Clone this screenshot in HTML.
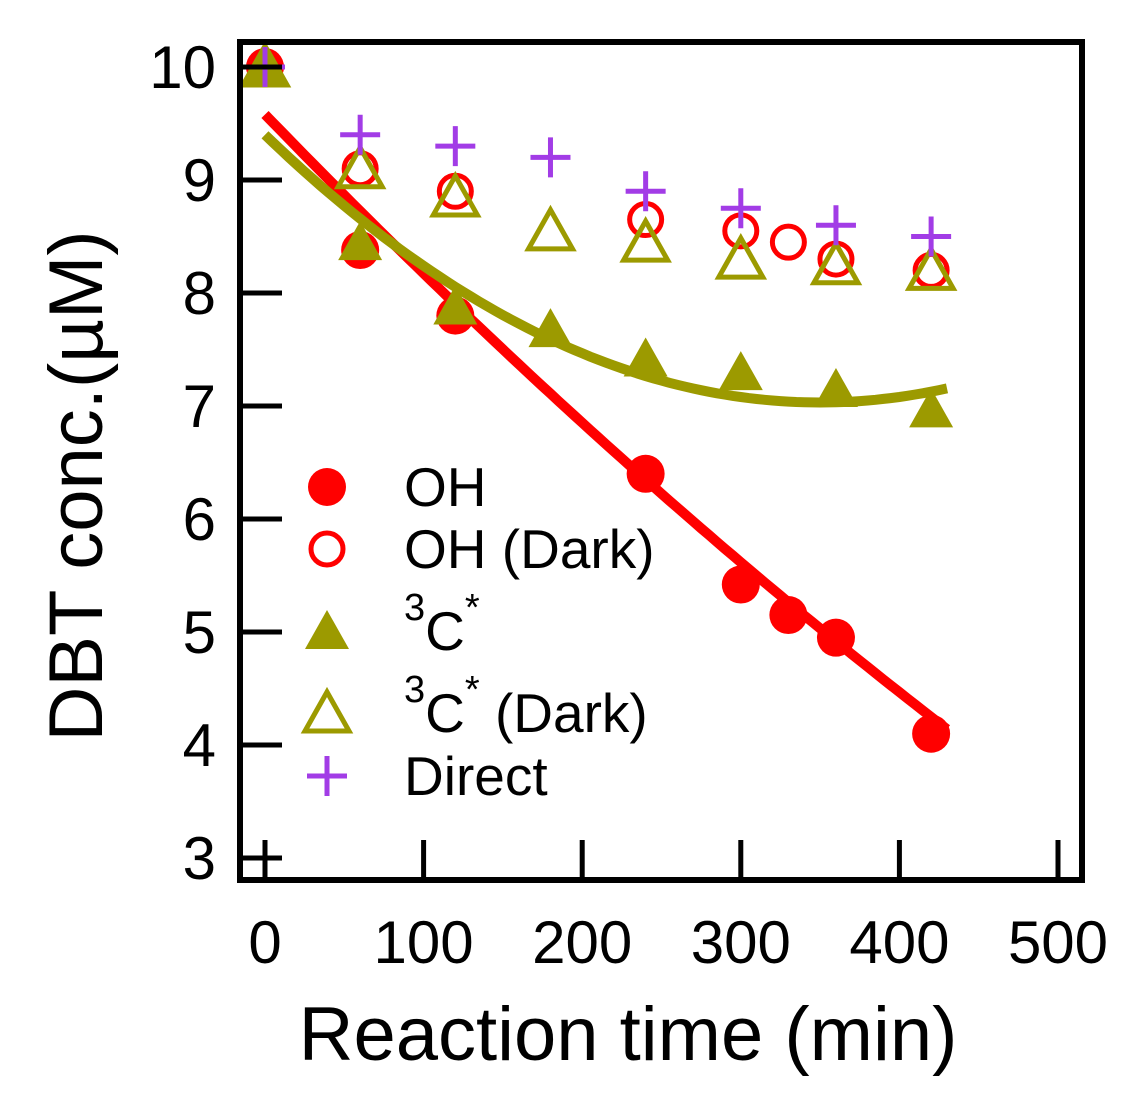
<!DOCTYPE html>
<html><head><meta charset="utf-8"><style>
html,body{margin:0;padding:0;background:#fff;}
svg text{font-family:"Liberation Sans",Arial,sans-serif;}
</style></head><body>
<svg id="chart" width="1145" height="1102" viewBox="0 0 1145 1102" xmlns="http://www.w3.org/2000/svg">
<g id="fits"></g><g id="marks"></g><g id="axes"></g><g id="legend"></g>
</svg>
<script>
const ohTimes = [0,60,120,240,300,330,360,420];
const ohVals = [10,8.38,7.8,6.4,5.42,5.15,4.95,4.1];
const ohDarkTimes = [0,60,120,240,300,330,360,420];
const ohDarkVals = [10,9.1,8.9,8.65,8.55,8.45,8.3,8.2];
const c3Times = [0,60,120,180,240,300,360,420];
const c3Vals = [10,8.45,7.88,7.68,7.42,7.3,7.15,6.97];
const c3DarkTimes = [0,60,120,180,240,300,360,420];
const c3DarkVals = [10,9.1,8.85,8.55,8.45,8.3,8.25,8.2];
const directTimes = [0,60,120,180,240,300,360,420];
const directVals = [10,9.4,9.3,9.2,8.9,8.75,8.6,8.5];
const ohFitCoef = [9.58,-0.0145,0.0000043];
const c3FitCoef = [9.40,-0.01354,0.00001935];
const xTicks = [0,100,200,300,400,500];
const yTicks = [3,4,5,6,7,8,9,10];

const NS="http://www.w3.org/2000/svg";
const X0=240,X1=1082,Y0=42,Y1=880;
function xs(v){return 265+v*(1058-265)/500;}
function ys(v){return 858-(v-3)*(858-67)/7;}
function el(tag,attrs,parent){const e=document.createElementNS(NS,tag);for(const k in attrs)e.setAttribute(k,attrs[k]);parent.appendChild(e);return e;}
const RED="#ff0000",OLV="#9c9a00",PUR="#a23ce6";

function circle(g,x,y,filled){return el('circle',{cx:x,cy:y,r:filled?19:16,fill:filled?RED:'none',stroke:RED,'stroke-width':filled?0:5},g);}
function tri(g,x,y,filled){const h=36,w=44;return el('polygon',{points:`${x},${y-h/2-3} ${x-w/2},${y+h/2} ${x+w/2},${y+h/2}`,fill:filled?OLV:'none',stroke:OLV,'stroke-width':filled?0:5},g);}
function plus(g,x,y){return el('path',{d:`M${x-20},${y}H${x+20}M${x},${y-20}V${y+20}`,stroke:PUR,'stroke-width':5,fill:'none'},g);}

const fits=document.getElementById('fits');
function fitPath(coef,t0,t1,color,name){let d='';for(let t=t0;t<=t1;t+=5){const v=coef[0]+coef[1]*t+coef[2]*t*t;d+=(d?'L':'M')+xs(t).toFixed(1)+','+ys(v).toFixed(1);}
const p=el('path',{d:d,stroke:color,'stroke-width':10,fill:'none'},fits);

}
fitPath(ohFitCoef,0,430,RED,'oh-fit-line');
fitPath(c3FitCoef,0,430,OLV,'c3-fit-line');

const marks=document.getElementById('marks');
ohDarkTimes.forEach((t,i)=>{const m=circle(marks,xs(t),ys(ohDarkVals[i]),false);

});
ohTimes.forEach((t,i)=>{const m=circle(marks,xs(t),ys(ohVals[i]),true);

});
c3Times.forEach((t,i)=>{const m=tri(marks,xs(t),ys(c3Vals[i]),true);

});
c3DarkTimes.forEach((t,i)=>{const m=tri(marks,xs(t),ys(c3DarkVals[i]),false);

});
directTimes.forEach((t,i)=>{const m=plus(marks,xs(t),ys(directVals[i]));

});

const axes=document.getElementById('axes');
const frame=el('rect',{x:X0,y:Y0,width:X1-X0,height:Y1-Y0,fill:'none',stroke:'#000','stroke-width':6},axes);


xTicks.forEach(v=>{const x=xs(v);
const t=el('line',{x1:x,x2:x,y1:Y1,y2:Y1-40,stroke:'#000','stroke-width':5},axes);


const l=el('text',{x:x,y:963,'font-size':60,'text-anchor':'middle'},axes);l.textContent=v;

});
yTicks.forEach(v=>{const y=ys(v);
const t=el('line',{x1:X0,x2:X0+42,y1:y,y2:y,stroke:'#000','stroke-width':5},axes);


const l=el('text',{x:216,y:y+21,'font-size':60,'text-anchor':'end'},axes);l.textContent=v;

});
const xt=el('text',{x:628,y:1060,'font-size':76,'text-anchor':'middle'},axes);xt.textContent='Reaction time (min)';


const yt=el('text',{x:0,y:0,'font-size':76,'text-anchor':'middle',transform:'translate(102,486) rotate(-90)'},axes);yt.textContent='DBT conc.(\u00b5M)';



const lg=document.getElementById('legend');
function ltext(y,html,name){const t=el('text',{x:404,y:y+19,'font-size':55},lg);t.innerHTML=html;

}
let m;
m=circle(lg,327,487,true);
ltext(487,'OH','legend-oh');
m=circle(lg,327,549,false);
ltext(549,'OH (Dark)','legend-oh-dark');
m=tri(lg,327,631,true);
ltext(631,'<tspan font-size="38" dy="-30">3</tspan><tspan dy="30">C</tspan><tspan font-size="38" dy="-30">*</tspan>','legend-c3');
m=tri(lg,327,713,false);
ltext(713,'<tspan font-size="38" dy="-30">3</tspan><tspan dy="30">C</tspan><tspan font-size="38" dy="-30">*</tspan><tspan dy="30"> (Dark)</tspan>','legend-c3-dark');
m=plus(lg,327,776);
ltext(776,'Direct','legend-direct');
</script>
</body></html>
